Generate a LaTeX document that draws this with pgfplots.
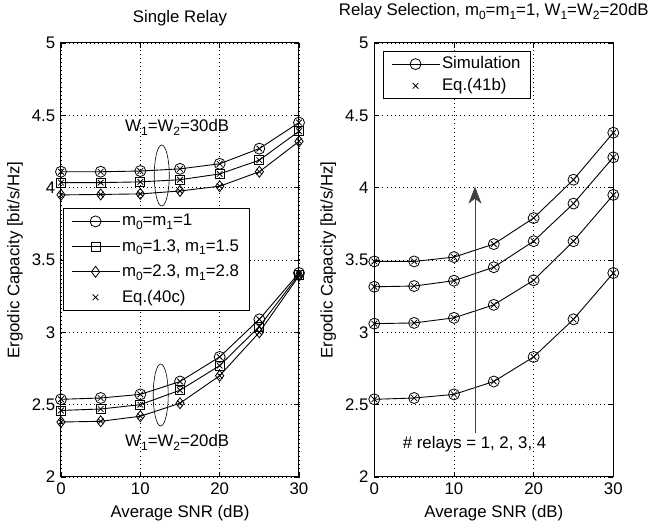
\documentclass[border=0pt]{standalone}
\usepackage{fontspec}
\setmainfont{Liberation Sans}
\usepackage{pgfplots}
\pgfplotsset{compat=1.18}
\usetikzlibrary{arrows.meta}
\newcommand{\sub}[1]{\raisebox{-0.42ex}{\fontsize{12}{12}\selectfont #1}}
\begin{document}
\fontsize{16.8}{19}\selectfont
\begin{tikzpicture}
\pgfplotsset{
 myaxis/.style={
  scale only axis, width=238pt, height=434pt,
  xmin=0,xmax=30,ymin=2,ymax=5,
  xtick={0,10,20,30}, ytick={2,2.5,3,3.5,4,4.5,5},
  /pgf/number format/assume math mode=true,
  /pgf/number format/fixed,
  tick align=inside, major tick length=5pt,
  grid=major, major grid style={black, line width=0.7pt, dash pattern=on 0.9pt off 3.2pt},
  axis line style={line width=1pt},
  tick style={black, line width=0.6pt},
  font=\fontsize{16.8}{19}\selectfont,
  xlabel={Average SNR (dB)},
  ylabel={Ergodic Capacity [bit/s/Hz]},
  xlabel style={at={(axis description cs:0.5,0)}, anchor=base, yshift=-41pt},
  ylabel style={at={(axis description cs:-0.1744,0.5)}, anchor=base},
  legend cell align=left,
  legend image code/.code={\draw[mark repeat=2,mark phase=2,##1] plot coordinates {(0pt,0pt) (24pt,0pt) (48pt,0pt)};},
 },
 sim/.style={black, line width=0.9pt, mark options={solid, fill=none, line width=0.8pt}},
 eq/.style={black, only marks, mark=x, mark size=4pt, mark options={line width=0.8pt}},
}
\begin{axis}[myaxis,
  title={Single Relay},
  title style={at={(axis description cs:0.5,1)}, anchor=base, yshift=14pt},
  legend style={at={(0.007,0.62)}, anchor=north west, draw=black, line width=0.9pt, fill=white,
    row sep=7pt, inner xsep=8pt, inner ysep=4pt, font=\fontsize{16.8}{19}\selectfont},
]
\addplot[sim, mark=o, mark size=5.5pt] coordinates {(0,4.11)(5,4.11)(10,4.115)(15,4.13)(20,4.165)(25,4.27)(30,4.45)};
\addlegendentry{m\sub{0}=m\sub{1}=1}
\addplot[sim, mark=square, mark size=4.5pt] coordinates {(0,4.035)(5,4.035)(10,4.04)(15,4.055)(20,4.095)(25,4.19)(30,4.39)};
\addlegendentry{m\sub{0}=1.3, m\sub{1}=1.5}
\addplot[sim, mark=diamond, mark size=5.5pt] coordinates {(0,3.95)(5,3.953)(10,3.957)(15,3.977)(20,4.01)(25,4.11)(30,4.32)};
\addlegendentry{m\sub{0}=2.3, m\sub{1}=2.8}
\addplot[eq] coordinates {(0,4.11)(5,4.11)(10,4.115)(15,4.13)(20,4.165)(25,4.27)(30,4.45)};
\addlegendentry{Eq.(40c)}
\addplot[eq, forget plot] coordinates {(0,4.035)(5,4.035)(10,4.04)(15,4.055)(20,4.095)(25,4.19)(30,4.39)};
\addplot[eq, forget plot] coordinates {(0,3.95)(5,3.953)(10,3.957)(15,3.977)(20,4.01)(25,4.11)(30,4.32)};
\addplot[sim, mark=o, mark size=5.5pt, forget plot] coordinates {(0,2.537)(5,2.546)(10,2.571)(15,2.66)(20,2.83)(25,3.09)(30,3.41)};
\addplot[sim, mark=square, mark size=4.5pt, forget plot] coordinates {(0,2.46)(5,2.47)(10,2.5)(15,2.60)(20,2.77)(25,3.04)(30,3.40)};
\addplot[sim, mark=diamond, mark size=5.5pt, forget plot] coordinates {(0,2.38)(5,2.385)(10,2.42)(15,2.51)(20,2.70)(25,3.0)(30,3.39)};
\addplot[eq, forget plot] coordinates {(0,2.537)(5,2.546)(10,2.571)(15,2.66)(20,2.83)(25,3.09)(30,3.41)};
\addplot[eq, forget plot] coordinates {(0,2.46)(5,2.47)(10,2.5)(15,2.60)(20,2.77)(25,3.04)(30,3.40)};
\addplot[eq, forget plot] coordinates {(0,2.38)(5,2.385)(10,2.42)(15,2.51)(20,2.70)(25,3.0)(30,3.39)};
\draw[line width=0.6pt] (axis cs:12.7,4.084) ellipse [x radius=7.5pt, y radius=30.5pt];
\draw[line width=0.6pt] (axis cs:12.57,2.567) ellipse [x radius=7.5pt, y radius=31pt];
\node[anchor=base west, inner sep=0pt] at (axis cs:8.07,4.387) {W\sub{1}=W\sub{2}=30dB};
\node[anchor=base west, inner sep=0pt] at (axis cs:8.07,2.21) {W\sub{1}=W\sub{2}=20dB};
\end{axis}
\begin{axis}[myaxis, at={(313.3pt,0pt)}, width=239pt,
  title={Relay Selection, m\sub{0}=m\sub{1}=1, W\sub{1}=W\sub{2}=20dB},
  title style={at={(axis description cs:0.5,1)}, anchor=base, yshift=21pt},
  legend style={at={(0.035,0.982)}, anchor=north west, draw=black, line width=0.9pt, fill=white,
    row sep=3pt, inner xsep=8pt, inner ysep=3.5pt, font=\fontsize{16.8}{19}\selectfont},
]
\addplot[sim, mark=o, mark size=5.5pt] coordinates {(0,3.49)(5,3.49)(10,3.52)(15,3.61)(20,3.79)(25,4.055)(30,4.38)};
\addlegendentry{Simulation}
\addplot[eq] coordinates {(0,3.49)(5,3.49)(10,3.52)(15,3.61)(20,3.79)(25,4.055)(30,4.38)};
\addlegendentry{Eq.(41b)}
\addplot[sim, mark=o, mark size=5.5pt, forget plot] coordinates {(0,3.315)(5,3.32)(10,3.357)(15,3.45)(20,3.63)(25,3.89)(30,4.21)};
\addplot[eq, forget plot] coordinates {(0,3.315)(5,3.32)(10,3.357)(15,3.45)(20,3.63)(25,3.89)(30,4.21)};
\addplot[sim, mark=o, mark size=5.5pt, forget plot] coordinates {(0,3.06)(5,3.065)(10,3.10)(15,3.19)(20,3.36)(25,3.63)(30,3.95)};
\addplot[eq, forget plot] coordinates {(0,3.06)(5,3.065)(10,3.10)(15,3.19)(20,3.36)(25,3.63)(30,3.95)};
\addplot[sim, mark=o, mark size=5.5pt, forget plot] coordinates {(0,2.537)(5,2.546)(10,2.571)(15,2.66)(20,2.83)(25,3.09)(30,3.41)};
\addplot[eq, forget plot] coordinates {(0,2.537)(5,2.546)(10,2.571)(15,2.66)(20,2.83)(25,3.09)(30,3.41)};
\draw[line width=0.7pt, black!75, -{Stealth[length=17pt,width=13pt,inset=5pt]}] (axis cs:12.64,2.307) -- (axis cs:12.64,4.007);
\node[anchor=base west, inner sep=0pt] at (axis cs:3.56,2.194) {\# relays = 1, 2, 3, 4};
\end{axis}
\pgfresetboundingbox
\useasboundingbox (-61pt,-48pt) rectangle (588pt,477pt);
\end{tikzpicture}
\end{document}
